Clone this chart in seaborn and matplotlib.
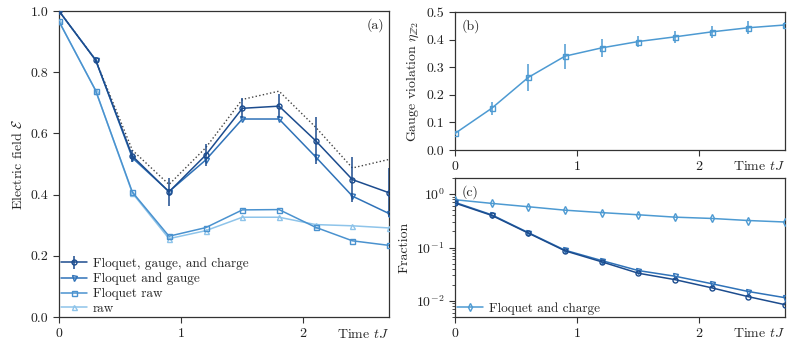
import numpy as np
import pandas as pd
import matplotlib
matplotlib.use("Agg")
import matplotlib.pyplot as plt
import seaborn as sns
from matplotlib.legend_handler import HandlerTuple

# ---------------- data ----------------
t = [0.0, 0.3, 0.6, 0.9, 1.2, 1.5, 1.8, 2.1, 2.4, 2.7]

# panel (a) electric field
E_fgc = [1.0, 0.839, 0.526, 0.409, 0.529, 0.682, 0.689, 0.576, 0.449, 0.406]
E_fgc_err = [0.0, 0.005, 0.02, 0.045, 0.035, 0.033, 0.04, 0.077, 0.073, 0.08]
E_fg = [1.0, 0.84, 0.52, 0.41, 0.513, 0.647, 0.647, 0.523, 0.395, 0.338]
E_fraw = [0.966, 0.74, 0.408, 0.264, 0.292, 0.35, 0.351, 0.293, 0.249, 0.234]
E_raw = [0.966, 0.74, 0.405, 0.256, 0.282, 0.326, 0.326, 0.302, 0.298, 0.291]
E_ideal = [1.0, 0.84, 0.545, 0.433, 0.553, 0.711, 0.738, 0.62, 0.487, 0.515]

# panel (b) gauge violation
eta = [0.06, 0.151, 0.263, 0.34, 0.37, 0.393, 0.41, 0.428, 0.443, 0.453]
eta_err = [0.005, 0.024, 0.05, 0.045, 0.032, 0.02, 0.021, 0.022, 0.023, 0.01]

# panel (c) fractions
frac_fc = [0.785, 0.67, 0.58, 0.50, 0.45, 0.41, 0.37, 0.35, 0.32, 0.30]
frac_fgc = [0.68, 0.40, 0.186, 0.0867, 0.054, 0.033, 0.025, 0.0176, 0.012, 0.0085]
frac_fg = [0.70, 0.41, 0.19, 0.089, 0.057, 0.037, 0.029, 0.021, 0.015, 0.0115]

labels_a = ["Floquet, gauge, and charge", "Floquet and gauge", "Floquet raw", "raw"]
label_c = "Floquet and charge"

# ---------------- style ----------------
sns.set_style("ticks")
plt.rcParams["font.family"] = ["cmr10", "DejaVu Serif"]
plt.rcParams["mathtext.fontset"] = "cm"
plt.rcParams["axes.unicode_minus"] = False
plt.rcParams["axes.formatter.use_mathtext"] = True
plt.rcParams["font.size"] = 10
plt.rcParams["axes.edgecolor"] = "#333333"
plt.rcParams["axes.linewidth"] = 0.9
plt.rcParams["xtick.color"] = "#333333"
plt.rcParams["ytick.color"] = "#333333"
plt.rcParams["xtick.labelcolor"] = "#222222"
plt.rcParams["ytick.labelcolor"] = "#222222"

c1 = "#1c4c8e"
c2 = "#2f72b8"
c3 = "#4a92cf"
c4 = "#8ec4ea"
cd = "#4d9ad2"

fig = plt.figure(figsize=(7.94, 3.5), dpi=100)
axA = fig.add_axes([0.0743, 0.0943, 0.4157, 0.8743])
axB = fig.add_axes([0.573, 0.5714, 0.4157, 0.3943])
axC = fig.add_axes([0.573, 0.0943, 0.4157, 0.3971])


def line(ax, y, color, marker, ms=3.6, lw=1.1, zorder=3):
    sns.lineplot(x=t, y=y, ax=ax, color=color, marker=marker, markersize=ms,
                 markerfacecolor="none", markeredgecolor=color,
                 markeredgewidth=1.0, linewidth=lw, zorder=zorder)
    return ax.lines[-1]


# ---- panel (a)
sns.lineplot(x=t, y=E_ideal, ax=axA, color="#444444", linestyle=":",
             linewidth=1.0, zorder=2)
l4 = line(axA, E_raw, c4, "^")
l3 = line(axA, E_fraw, c3, "s")
l2 = line(axA, E_fg, c2, "v")
l1 = line(axA, E_fgc, c1, "o")
eb1 = axA.errorbar(t, E_fgc, yerr=E_fgc_err, fmt="none", ecolor=c1,
                   elinewidth=1.1, zorder=4)
axA.set_xlim(0, 2.7)
axA.set_ylim(0, 1.0)
axA.set_xticks([0, 1, 2])
axA.set_yticks([0.0, 0.2, 0.4, 0.6, 0.8, 1.0])
axA.set_yticklabels(["0.0", "0.2", "0.4", "0.6", "0.8", "1.0"])
axA.set_ylabel(r"Electric field $\mathcal{E}$")
axA.text(0.985, 0.975, "(a)", transform=axA.transAxes, ha="right", va="top")
axA.text(1.0, -0.035, r"Time $tJ$", transform=axA.transAxes, ha="right", va="top")
axA.legend([(l1, eb1), l2, l3, l4], labels_a, loc="lower left",
           frameon=False, fontsize=9.5, handlelength=2.0, handletextpad=0.4,
           labelspacing=0.2, borderaxespad=0.0, borderpad=0.15,
           handler_map={tuple: HandlerTuple(ndivide=1, pad=0)})

# ---- panel (b)
line(axB, eta, cd, "s")
axB.errorbar(t, eta, yerr=eta_err, fmt="none", ecolor=cd, elinewidth=1.1, zorder=4)
axB.set_xlim(0, 2.7)
axB.set_ylim(0, 0.5)
axB.set_xticks([0, 1, 2])
axB.set_yticks([0.0, 0.1, 0.2, 0.3, 0.4, 0.5])
axB.set_yticklabels(["0.0", "0.1", "0.2", "0.3", "0.4", "0.5"])
axB.set_ylabel(r"Gauge violation $\eta_{\mathbb{Z}2}$")
axB.text(0.02, 0.95, "(b)", transform=axB.transAxes, ha="left", va="top")
axB.text(1.0, -0.075, r"Time $tJ$", transform=axB.transAxes, ha="right", va="top")

# ---- panel (c)
lc = line(axC, frac_fc, cd, "d", ms=4.2)
line(axC, frac_fg, c2, "v")
line(axC, frac_fgc, c1, "o")
axC.set_yscale("log")
axC.set_xlim(0, 2.7)
axC.set_ylim(5e-3, 2.0)
axC.set_xticks([0, 1, 2])
axC.set_ylabel("Fraction")
axC.text(0.02, 0.95, "(c)", transform=axC.transAxes, ha="left", va="top")
axC.text(1.0, -0.075, r"Time $tJ$", transform=axC.transAxes, ha="right", va="top")
axC.legend([lc], [label_c], loc="lower left", frameon=False, fontsize=9.5,
           handlelength=2.0, handletextpad=0.4, borderaxespad=0.0, borderpad=0.15)

for ax in (axA, axB, axC):
    ax.set_xlabel("")
    ax.tick_params(direction="out", length=4, width=0.8, labelsize=10)
    ax.tick_params(which="minor", direction="out", length=2.5, width=0.6)
    for s in ax.spines.values():
        s.set_visible(True)

fig.savefig("out.png", dpi=100)
